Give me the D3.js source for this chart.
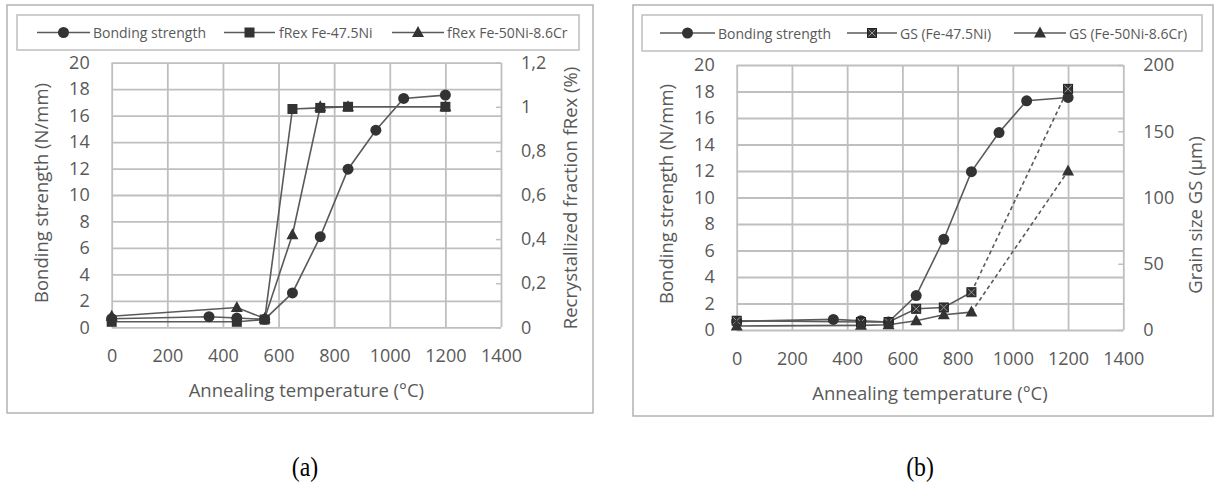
<!DOCTYPE html>
<html><head><meta charset="utf-8">
<script src="https://cdn.jsdelivr.net/npm/d3@7"></script>
<style>
html,body{margin:0;padding:0;background:#fff;}
svg{display:block;font-family:"Open Sans",sans-serif;}
</style></head>
<body><svg id="c" width="1214" height="502"></svg>
<script>
// ---- data ----
const xTicks = [0,200,400,600,800,1000,1200,1400];
const yTicksLeft = [0,2,4,6,8,10,12,14,16,18,20];
const yTicksFrac = [0,0.2,0.4,0.6,0.8,1,1.2];
const fracLabels = ["0","0,2","0,4","0,6","0,8","1","1,2"];
const yTicksGS = [0,50,100,150,200];

const bondX = [0,350,450,550,650,750,850,950,1050,1200];
const bondY = [0.65,0.8,0.7,0.6,2.6,6.85,11.95,14.9,17.3,17.55];

const fRex47X = [0,450,550,650,750,850,1200];
const fRex47Y = [0.025,0.025,0.035,0.99,0.995,1.0,1.0];
const fRex50X = [0,450,550,650,750,850,1200];
const fRex50Y = [0.05,0.09,0.04,0.42,1.0,1.0,1.0];

const gs47X = [0,450,550,650,750,850,1200];
const gs47Y = [7,6,6,16,17,28.5,182];
const gs50X = [0,450,550,650,750,850,1200];
const gs50Y = [3,3.5,4,7,11.5,13.5,120];

const legendA = ["Bonding strength","fRex Fe-47.5Ni","fRex Fe-50Ni-8.6Cr"];
const legendB = ["Bonding strength","GS (Fe-47.5Ni)","GS (Fe-50Ni-8.6Cr)"];

// ---- drawing ----
const svg = d3.select("#c");
const GRID = "#bfbfbf", TXT = "#595959", LINE = "#5a5a5a", MK = "#333333";
const TICKFS = "18px", TITLEFS = "18.5px", LEGFS = "14px";

function marker(g, type, cx, cy){
  if(type==="circle"){
    g.append("circle").attr("cx",cx).attr("cy",cy).attr("r",5.5).attr("fill",MK);
  } else if(type==="square"){
    g.append("rect").attr("x",cx-5).attr("y",cy-5).attr("width",10).attr("height",10).attr("fill",MK);
  } else if(type==="xsquare"){
    g.append("rect").attr("x",cx-4.5).attr("y",cy-4.5).attr("width",9).attr("height",9).attr("fill",MK).attr("stroke","#222").attr("stroke-width",1);
    g.append("path").attr("d",`M${cx-3.5},${cy-3.5}L${cx+3.5},${cy+3.5}M${cx+3.5},${cy-3.5}L${cx-3.5},${cy+3.5}`).attr("stroke","#9a9a9a").attr("stroke-width",1);
  } else if(type==="tri"){
    g.append("path").attr("d",`M${cx},${cy-6.5}L${cx+6},${cy+4.5}L${cx-6},${cy+4.5}Z`).attr("fill",MK);
  }
}

function drawChart(cfg){
  const g = svg.append("g");
  g.append("rect").attr("x",cfg.box[0]).attr("y",cfg.box[1]).attr("width",cfg.box[2]-cfg.box[0]).attr("height",cfg.box[3]-cfg.box[1])
    .attr("fill","#fff").attr("stroke","#b3b3b3").attr("stroke-width",1.5);
  g.append("rect").attr("x",cfg.leg[0]).attr("y",cfg.leg[1]).attr("width",cfg.leg[2]-cfg.leg[0]).attr("height",cfg.leg[3]-cfg.leg[1])
    .attr("fill","#fff").attr("stroke","#bfbfbf").attr("stroke-width",1.5);

  const x = d3.scaleLinear().domain([0,1400]).range([cfg.px0,cfg.px1]);
  const yL = d3.scaleLinear().domain([0,20]).range([cfg.py0,cfg.py1]);
  const yR = d3.scaleLinear().domain(cfg.rDomain).range([cfg.py0,cfg.py1]);
  const w = cfg.px1-cfg.px0, h = cfg.py0-cfg.py1;

  const gx = g.append("g").attr("transform",`translate(0,${cfg.py0})`)
    .call(d3.axisBottom(x).tickValues(xTicks).tickSize(-h).tickFormat(""));
  const gy = g.append("g").attr("transform",`translate(${cfg.px0},0)`)
    .call(d3.axisLeft(yL).tickValues(yTicksLeft).tickSize(-w).tickFormat(""));
  [gx,gy].forEach(a=>{a.select(".domain").remove(); a.selectAll("line").attr("stroke",GRID).attr("stroke-width",1.8);});

  const lx = g.append("g").attr("transform",`translate(0,${cfg.py0+19})`)
    .call(d3.axisBottom(x).tickValues(xTicks).tickSize(0).tickFormat(d3.format("d")));
  const ly = g.append("g").attr("transform",`translate(${cfg.px0-22},0)`)
    .call(d3.axisLeft(yL).tickValues(yTicksLeft).tickSize(0).tickFormat(d3.format("d")));
  const rTicks = cfg.rTicks;
  const lr = g.append("g").attr("transform",`translate(${cfg.px1+20},0)`)
    .call(d3.axisRight(yR).tickValues(rTicks).tickSize(0).tickFormat((d,i)=>cfg.rLabels[i]));
  [lx,ly,lr].forEach(a=>{a.select(".domain").remove(); a.selectAll("text").attr("fill",TXT).style("font-size",TICKFS).style("font-family","Open Sans");});
  ly.selectAll("text").attr("x",0);
  lr.selectAll("text").attr("x",0);
  const tk = g.append("g").attr("transform",`translate(${cfg.px1},0)`)
    .call(d3.axisLeft(yR).tickValues(rTicks).tickSize(5).tickFormat(""));
  tk.select(".domain").remove(); tk.selectAll("line").attr("stroke",GRID).attr("stroke-width",1.5);

  g.append("text").attr("x",(cfg.px0+cfg.px1)/2).attr("y",cfg.py0+70).attr("text-anchor","middle")
    .attr("fill",TXT).style("font-size",TITLEFS).text("Annealing temperature (°C)");
  g.append("text").attr("transform",`translate(${cfg.ylx},${cfg.yly}) rotate(-90)`).attr("text-anchor","middle").attr("dominant-baseline","middle")
    .attr("fill",TXT).style("font-size",TITLEFS).text("Bonding strength (N/mm)");
  g.append("text").attr("transform",`translate(${cfg.yrx},${cfg.yry}) rotate(-90)`).attr("text-anchor","middle").attr("dominant-baseline","middle")
    .attr("fill",TXT).style("font-size",TITLEFS).text(cfg.rTitle);

  cfg.series.forEach(s=>{
    const yS = s.axis==="L" ? yL : yR;
    const pts = s.x.map((v,i)=>[x(v),yS(s.y[i])]);
    const n = pts.length;
    const solidEnd = s.dashLast ? n-1 : n;
    g.append("path").attr("d",d3.line()(pts.slice(0,solidEnd))).attr("fill","none").attr("stroke",LINE).attr("stroke-width",1.6);
    if(s.dashLast){
      g.append("path").attr("d",d3.line()(pts.slice(n-2))).attr("fill","none").attr("stroke",LINE).attr("stroke-width",1.6).attr("stroke-dasharray","4,3");
    }
    s.mg = pts;
  });
  cfg.series.forEach(s=>{ s.mg.forEach(p=>marker(g,s.marker,p[0],p[1])); });

  const ly0 = (cfg.leg[1]+cfg.leg[3])/2;
  cfg.series.forEach((s,i)=>{
    const it = cfg.legItems[i];
    g.append("line").attr("x1",it[0]).attr("x2",it[1]).attr("y1",ly0).attr("y2",ly0).attr("stroke",LINE).attr("stroke-width",1.6);
    marker(g,s.marker,(it[0]+it[1])/2,ly0);
    g.append("text").attr("x",it[2]).attr("y",ly0).attr("dominant-baseline","central").attr("fill",TXT)
      .style("font-size",LEGFS).text(cfg.legText[i]);
  });
}

drawChart({
  box:[7,5,593,413], leg:[17,15,579,50],
  px0:111.7, px1:501, py0:327.3, py1:62.7,
  rDomain:[0,1.2], rTicks:yTicksFrac, rLabels:fracLabels, rTitle:"Recrystallized fraction fRex (%)",
  ylx:43, yly:193, yrx:572, yry:198,
  legItems:[[37,90,93],[224,275,279],[392,444,447]], legText:legendA,
  series:[
    {x:bondX,y:bondY,axis:"L",marker:"circle"},
    {x:fRex47X,y:fRex47Y,axis:"R",marker:"square"},
    {x:fRex50X,y:fRex50Y,axis:"R",marker:"tri"}
  ]
});
drawChart({
  box:[633,5,1213,416], leg:[642,15,1202,51],
  px0:736.7, px1:1123.3, py0:330, py1:65,
  rDomain:[0,200], rTicks:yTicksGS, rLabels:yTicksGS.map(String), rTitle:"Grain size GS (μm)",
  ylx:668, yly:194, yrx:1197, yry:215,
  legItems:[[660,715,718],[847,897,900],[1014,1066,1069]], legText:legendB,
  series:[
    {x:bondX,y:bondY,axis:"L",marker:"circle"},
    {x:gs47X,y:gs47Y,axis:"R",marker:"xsquare",dashLast:true},
    {x:gs50X,y:gs50Y,axis:"R",marker:"tri",dashLast:true}
  ]
});

function panelLabel(cx, t){
  svg.append("text").attr("transform",`translate(${cx},476) scale(0.85,1)`).attr("text-anchor","middle")
    .style("font-family","Liberation Serif").style("font-size","28px").attr("fill","#000").text(t);
}
panelLabel(305,"(a)");
panelLabel(920,"(b)");
</script></body></html>
